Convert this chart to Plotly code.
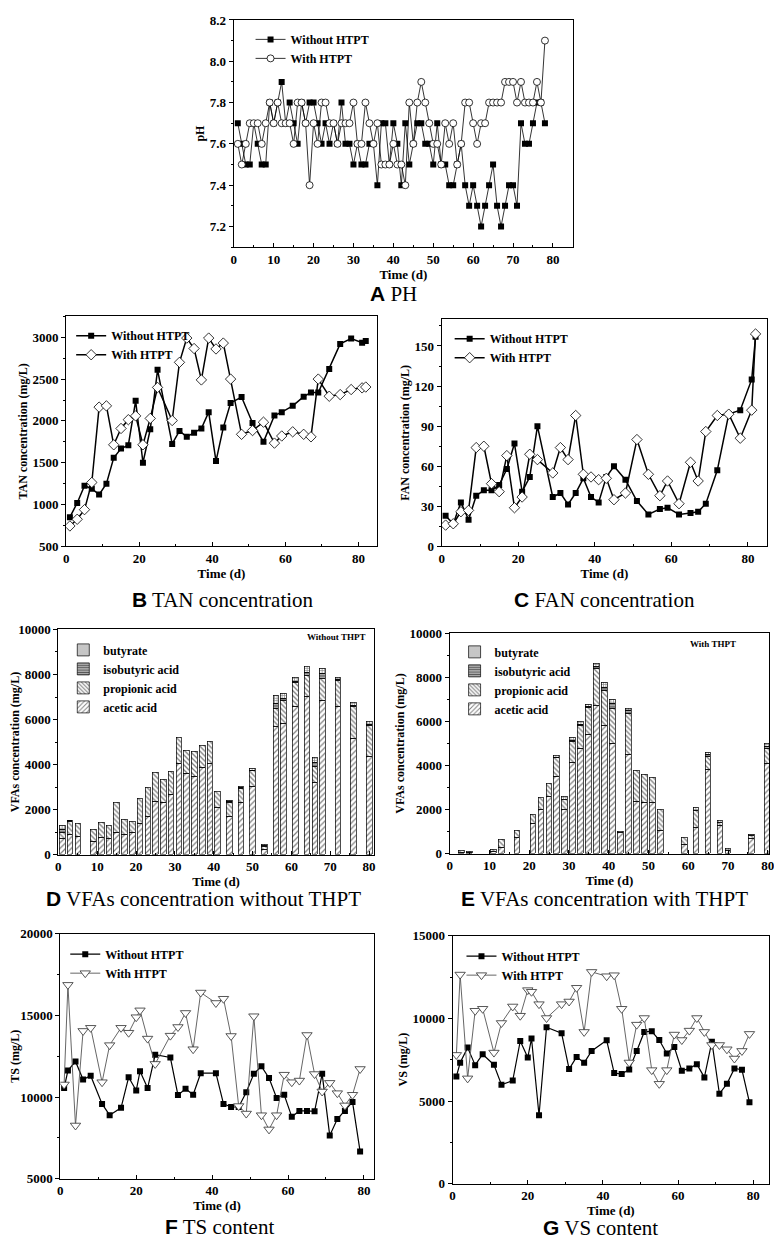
import plotly.graph_objects as go

# The page keeps the browser's default 8px body margin; the figure is sized so that
# figure + margins fill the 782x1254 window exactly. Positions are given in page pixels.
PAGE_W, PAGE_H = 782, 1254
OFF = 8
W, H = PAGE_W - 2 * OFF, PAGE_H - 2 * OFF
SERIF = "Liberation Serif"
SANS = "Liberation Sans"

# ---------------- DATA ----------------
ph_days = list(range(1, 79))
ph_without = [7.7,7.6,7.5,7.5,7.7,7.6,7.5,7.5,7.8,7.7,
              7.8,7.9,7.7,7.8,7.7,7.6,7.8,7.7,7.8,7.8,
              7.7,7.6,7.7,7.6,7.7,7.6,7.8,7.6,7.6,7.5,
              7.6,7.5,7.5,7.6,7.6,7.4,7.7,7.7,7.5,7.7,
              7.6,7.4,7.7,7.5,7.6,7.7,7.7,7.6,7.6,7.5,
              7.7,7.5,7.5,7.4,7.4,7.5,7.6,7.4,7.3,7.4,
              7.3,7.2,7.3,7.4,7.5,7.3,7.2,7.3,7.4,7.4,
              7.3,7.7,7.6,7.6,7.7,7.8,7.8,7.7]
ph_with = [7.6,7.5,7.6,7.7,7.7,7.7,7.6,7.7,7.8,7.7,
           7.8,7.7,7.7,7.7,7.6,7.8,7.8,7.7,7.4,7.7,
           7.6,7.8,7.8,7.7,7.7,7.6,7.7,7.7,7.7,7.8,
           7.6,7.6,7.8,7.7,7.6,7.7,7.5,7.5,7.5,7.6,
           7.5,7.5,7.4,7.8,7.6,7.8,7.9,7.8,7.7,7.6,
           7.6,7.5,7.7,7.6,7.7,7.5,7.6,7.8,7.8,7.7,
           7.6,7.7,7.7,7.8,7.8,7.8,7.8,7.9,7.9,7.9,
           7.8,7.9,7.8,7.8,7.8,7.9,7.8,8.1]

an_days = [1,3,5,7,9,11,13,15,17,19,21,23,25,29,31,33,35,37,39,41,43,45,48,51,54,57,59,62,65,67,69,72,75,78,81,82]
tan_without = [850,1020,1225,1190,1120,1250,1560,1670,1710,2240,1500,1900,2610,1725,1880,1810,1860,1910,2105,1520,
               1920,2215,2285,1975,1750,2065,2105,2180,2290,2340,2340,2620,2920,2985,2935,2955]
tan_with = [745,825,940,1265,2165,2180,1715,1910,2015,2060,1715,2030,2400,2005,2700,2990,2865,2490,2990,2860,
            2930,2500,1840,1885,1985,1735,1820,1870,1840,1810,2500,2295,2315,2375,2395,2405]
fan_without = [23,17,33,20,38,42,42,46,58,77,41,52,90,37,40,31.5,40,51,37,33,
               52,60,50,34,24,28,29,24,25,26,32,57,99,102,125,157]
fan_with = [16,17,26,27,74,75,47,41,68,29,37,69,65,55,74,65,98,54,52,50,
            51,35,40,80,54,38,49,32,63,49,86,98,99,81,102,159]

vfa_d_days = [1,3,5,9,11,13,15,17,19,21,23,25,27,29,31,33,35,37,39,41,44,47,50,53,56,58,61,64,66,68,72,76,80]
acetic_d = [700,900,800,600,750,700,1000,900,1000,1370,1700,2370,2310,2660,4060,3600,3490,3860,4040,2100,
            1710,2320,3010,250,5700,5830,6590,7040,3200,6840,6560,5180,4340]
propionic_d = [300,560,600,500,660,616,1320,665,490,1130,1295,1300,1040,1040,1160,1050,1090,990,970,690,
               620,630,710,130,790,1030,1070,940,730,970,1170,1380,1380]
isobutyric_d = [100,40,None,None,None,None,None,None,None,None,None,None,None,None,None,None,None,None,None,None,
                30,20,40,20,220,90,40,130,150,220,60,70,60]
butyrate_d = [216,35,None,None,None,None,None,None,None,None,None,None,None,None,None,None,None,None,None,None,
              50,50,80,50,360,220,160,230,250,230,100,120,120]

vfa_e_days = [3,5,11,13,17,21,23,25,27,29,31,33,35,37,39,41,43,45,47,49,51,53,59,62,65,68,70,76,80]
acetic_e = [80,60,100,300,750,1360,2030,2590,3530,2000,4130,4800,5400,6740,5820,5020,950,4530,2380,2330,
            2330,1060,400,1210,3820,1290,150,700,4120]
propionic_e = [70,40,100,350,310,420,530,590,820,480,970,1020,1240,1670,1590,1570,80,1840,1420,1270,
               1150,940,360,750,600,130,None,120,680]
isobutyric_e = [None,None,None,None,None,None,None,None,40,None,60,60,60,90,150,230,None,150,None,None,
                None,None,None,None,80,None,None,None,80]
butyrate_e = [None,None,None,None,None,None,None,None,60,120,130,110,100,130,230,200,None,70,None,None,
              None,None,None,120,120,90,100,60,130]

s_days = [1,2,4,6,8,11,13,16,18,20,21,23,25,29,31,33,35,37,41,43,45,47,49,51,53,55,57,59,61,63,65,67,69,71,73,75,77,79]
ts_without = [10550,11620,12180,11070,11310,9580,8890,9340,11210,10400,11580,10550,12590,12420,10120,10510,10140,11460,11460,9580,
              9390,9390,10300,11420,11880,11170,9940,10140,8790,9150,9150,9130,11420,7640,8650,9150,9700,6670]
ts_with = [10770,16870,8260,14050,14240,10910,13180,14240,13940,14890,15310,13580,12030,13760,14290,15150,12930,16400,15760,16020,
           13740,9450,8990,14950,8890,8020,8890,11370,10910,11010,13800,11410,10340,10870,10240,9490,10140,11720]
vs_without = [6480,7310,8230,7170,7830,7190,5980,6240,8630,7630,8780,4140,9460,9100,6930,7670,7310,8030,8670,6690,
              6630,6910,8030,9180,9220,8690,7870,8270,6830,6970,7230,6430,8590,5440,6040,6970,6890,4920]
vs_with = [7790,12650,6370,10460,10580,7930,9720,10720,10160,11710,11610,10860,10020,10860,11020,11850,9180,12810,12550,12610,
           10580,7330,9620,10020,6870,6040,6870,9020,8690,9260,10020,9180,8390,8390,8130,7570,8030,9060]

# ---------------- HELPERS (page-pixel coordinates) ----------------
def clamp(v):
    return max(0.0, min(1.0, v))

def px(x):
    return clamp((x - OFF) / W)

def py(y):
    return clamp(1 - (y - OFF) / H)

def dx(l, r):
    return [px(l), px(r)]

def dy(t, b):
    return [py(b), py(t)]

tickf = dict(family=SERIF, size=13, color="black", weight="bold")
xtitf = dict(family=SERIF, size=13, color="black", weight="bold")
ytitf = dict(family=SERIF, size=12, color="black", weight="bold")
legf = dict(family=SERIF, size=12, color="black", weight="bold")

def xax(dom, anchor, rng, dtick, minor):
    return dict(domain=dom, anchor=anchor, range=rng, dtick=dtick, tick0=0,
                showline=True, linecolor="black", linewidth=1.2, mirror=True,
                showgrid=False, zeroline=False, ticks="inside", ticklen=4,
                tickcolor="black", tickfont=tickf, ticklabeloverflow="allow",
                minor=dict(ticks="inside", ticklen=2, dtick=minor, tickcolor="black"),
                title=dict(text="Time (d)", font=xtitf, standoff=0))

def yax(dom, anchor, rng, dtick, minor, title, fmt="d"):
    return dict(domain=dom, anchor=anchor, range=rng, dtick=dtick,
                showline=True, linecolor="black", linewidth=1.2, mirror=True,
                showgrid=False, zeroline=False, ticks="outside", ticklen=4,
                tickcolor="black", tickfont=tickf, tickformat=fmt, ticklabeloverflow="allow",
                minor=dict(ticks="outside", ticklen=2, dtick=minor, tickcolor="black"),
                title=dict(text=title, font=ytitf, standoff=2))

fig = go.Figure()

# ---- A: pH ----
fig.add_trace(go.Scatter(x=ph_days, y=ph_without, mode="lines+markers", name="Without HTPT",
                         line=dict(color="black", width=0.8),
                         marker=dict(symbol="square", size=6, color="black"),
                         xaxis="x", yaxis="y", legend="legend"))
fig.add_trace(go.Scatter(x=ph_days, y=ph_with, mode="lines+markers", name="With HTPT",
                         line=dict(color="black", width=0.8),
                         marker=dict(symbol="circle", size=7, color="white", line=dict(color="black", width=0.8)),
                         xaxis="x", yaxis="y", legend="legend"))

# ---- B: TAN ----
fig.add_trace(go.Scatter(x=an_days, y=tan_without, mode="lines+markers", name="Without HTPT",
                         line=dict(color="black", width=1.5),
                         marker=dict(symbol="square", size=6, color="black"),
                         xaxis="x2", yaxis="y2", legend="legend2"))
fig.add_trace(go.Scatter(x=an_days, y=tan_with, mode="lines+markers", name="With HTPT",
                         line=dict(color="black", width=1.5),
                         marker=dict(symbol="diamond", size=8, color="white", line=dict(color="black", width=0.8)),
                         xaxis="x2", yaxis="y2", legend="legend2"))

# ---- C: FAN ----
fig.add_trace(go.Scatter(x=an_days, y=fan_without, mode="lines+markers", name="Without HTPT",
                         line=dict(color="black", width=1.5),
                         marker=dict(symbol="square", size=6, color="black"),
                         xaxis="x3", yaxis="y3", legend="legend3"))
fig.add_trace(go.Scatter(x=an_days, y=fan_with, mode="lines+markers", name="With HTPT",
                         line=dict(color="black", width=1.5),
                         marker=dict(symbol="diamond", size=8, color="white", line=dict(color="black", width=0.8)),
                         xaxis="x3", yaxis="y3", legend="legend3"))

# ---- D, E: VFA bars ----
def pat(shape, bg, size, sol):
    return dict(color=bg, line=dict(color="black", width=0.7),
                pattern=dict(shape=shape, fgcolor="black", bgcolor=bg, size=size, solidity=sol))

comps = [("acetic acid", "/", "white", 4, 0.3),
         ("propionic acid", "\\", "white", 3.5, 0.38),
         ("isobutyric acid", "-", "#b0b0b0", 3, 0.4),
         ("butyrate", "+", "white", 2.5, 0.45)]

for (days, series, xa, ya, lg) in [
        (vfa_d_days, [acetic_d, propionic_d, isobutyric_d, butyrate_d], "x4", "y4", "legend4"),
        (vfa_e_days, [acetic_e, propionic_e, isobutyric_e, butyrate_e], "x5", "y5", "legend5")]:
    for (name, shp, bg, sz, sol), vals in zip(comps, series):
        fig.add_trace(go.Bar(x=days, y=vals, name=name, width=1.45,
                             marker=pat(shp, bg, sz, sol),
                             xaxis=xa, yaxis=ya, legend=lg))

# ---- F: TS ----
fig.add_trace(go.Scatter(x=s_days, y=ts_without, mode="lines+markers", name="Without HTPT",
                         line=dict(color="black", width=1.2),
                         marker=dict(symbol="square", size=6, color="black"),
                         xaxis="x6", yaxis="y6", legend="legend6"))
fig.add_trace(go.Scatter(x=s_days, y=ts_with, mode="lines+markers", name="With HTPT",
                         line=dict(color="#555555", width=0.9),
                         marker=dict(symbol="triangle-down", size=9, color="white", line=dict(color="#444444", width=0.9)),
                         xaxis="x6", yaxis="y6", legend="legend6"))

# ---- G: VS ----
fig.add_trace(go.Scatter(x=s_days, y=vs_without, mode="lines+markers", name="Without HTPT",
                         line=dict(color="black", width=1.2),
                         marker=dict(symbol="square", size=6, color="black"),
                         xaxis="x7", yaxis="y7", legend="legend7"))
fig.add_trace(go.Scatter(x=s_days, y=vs_with, mode="lines+markers", name="With HTPT",
                         line=dict(color="#555555", width=0.9),
                         marker=dict(symbol="triangle-down", size=9, color="white", line=dict(color="#444444", width=0.9)),
                         xaxis="x7", yaxis="y7", legend="legend7"))

# ---------------- LAYOUT ----------------
def leg(x, y, rev=False):
    d = dict(x=px(x), y=py(y), xanchor="left", yanchor="top", font=legf,
             bgcolor="rgba(0,0,0,0)", borderwidth=0, itemwidth=30, tracegroupgap=0)
    if rev:
        d["traceorder"] = "reversed"
    return d

layout = dict(
    width=W, height=H, margin=dict(l=0, r=0, t=0, b=0),
    paper_bgcolor="white", plot_bgcolor="white", barmode="stack", bargap=0,
    font=dict(family=SERIF, color="black"),
    xaxis=xax(dx(231, 575), "y", [0, 85], 10, 5),
    yaxis=yax(dy(13, 243), "x", [7.1, 8.2], 0.2, 0.1, "pH", ".1f"),
    xaxis2=xax(dx(61, 376), "y2", [0, 85], 20, 10),
    yaxis2=yax(dy(313, 546), "x2", [500, 3250], 500, 250, "TAN concentration (mg/L)"),
    xaxis3=xax(dx(442, 772), "y3", [0, 85], 20, 10),
    yaxis3=yax(dy(316, 546), "x3", [0, 170], 30, 15, "FAN concentration (mg/L)"),
    xaxis4=xax(dx(53, 373), "y4", [0, 81.2], 10, 5),
    yaxis4=yax(dy(630, 858), "x4", [0, 10000], 2000, 1000, "VFAs concentration (mg/L)"),
    xaxis5=xax(dx(450, 774), "y5", [0, 80.3], 10, 5),
    yaxis5=yax(dy(634, 857), "x5", [0, 10000], 2000, 1000, "VFAs concentration (mg/L)"),
    xaxis6=xax(dx(55, 373), "y6", [0, 82.6], 20, 10),
    yaxis6=yax(dy(938, 1186), "x6", [5000, 20000], 5000, 2500, "TS (mg/L)"),
    xaxis7=xax(dx(453, 774), "y7", [0, 84.2], 20, 10),
    yaxis7=yax(dy(940, 1191), "x7", [0, 15000], 5000, 2500, "VS (mg/L)"),
    legend=leg(248, 18),
    legend2=leg(66, 318),
    legend3=leg(450, 321),
    legend4=leg(58, 636, True),
    legend5=leg(455, 638, True),
    legend6=leg(60, 944),
    legend7=leg(462, 946),
)
fig.update_layout(**layout)

def panel_title(letter, text, x, y):
    fig.add_annotation(x=px(x), y=py(y), xref="paper", yref="paper", showarrow=False,
                       xanchor="center", yanchor="middle",
                       text=f'<span style="font-family:{SANS};font-weight:bold">{letter}</span> {text}',
                       font=dict(family=SERIF, size=21, color="black"))

panel_title("A", "PH", 393, 290)
panel_title("B", "TAN concentration", 220, 600)
panel_title("C", "FAN concentration", 607, 600)
panel_title("D", "VFAs concentration without THPT", 200, 903)
panel_title("E", "VFAs concentration with THPT", 607, 903)
panel_title("F", "TS content", 217, 1235)
panel_title("G", "VS content", 603, 1236)

fig.add_annotation(x=px(335), y=py(638), xref="paper", yref="paper", showarrow=False,
                   text="Without THPT", font=dict(family=SERIF, size=9, color="black", weight="bold"))
fig.add_annotation(x=px(743), y=py(645), xref="paper", yref="paper", showarrow=False,
                   text="With THPT", font=dict(family=SERIF, size=9, color="black", weight="bold"))

fig.write_html("out.html", config={"displayModeBar": False})
